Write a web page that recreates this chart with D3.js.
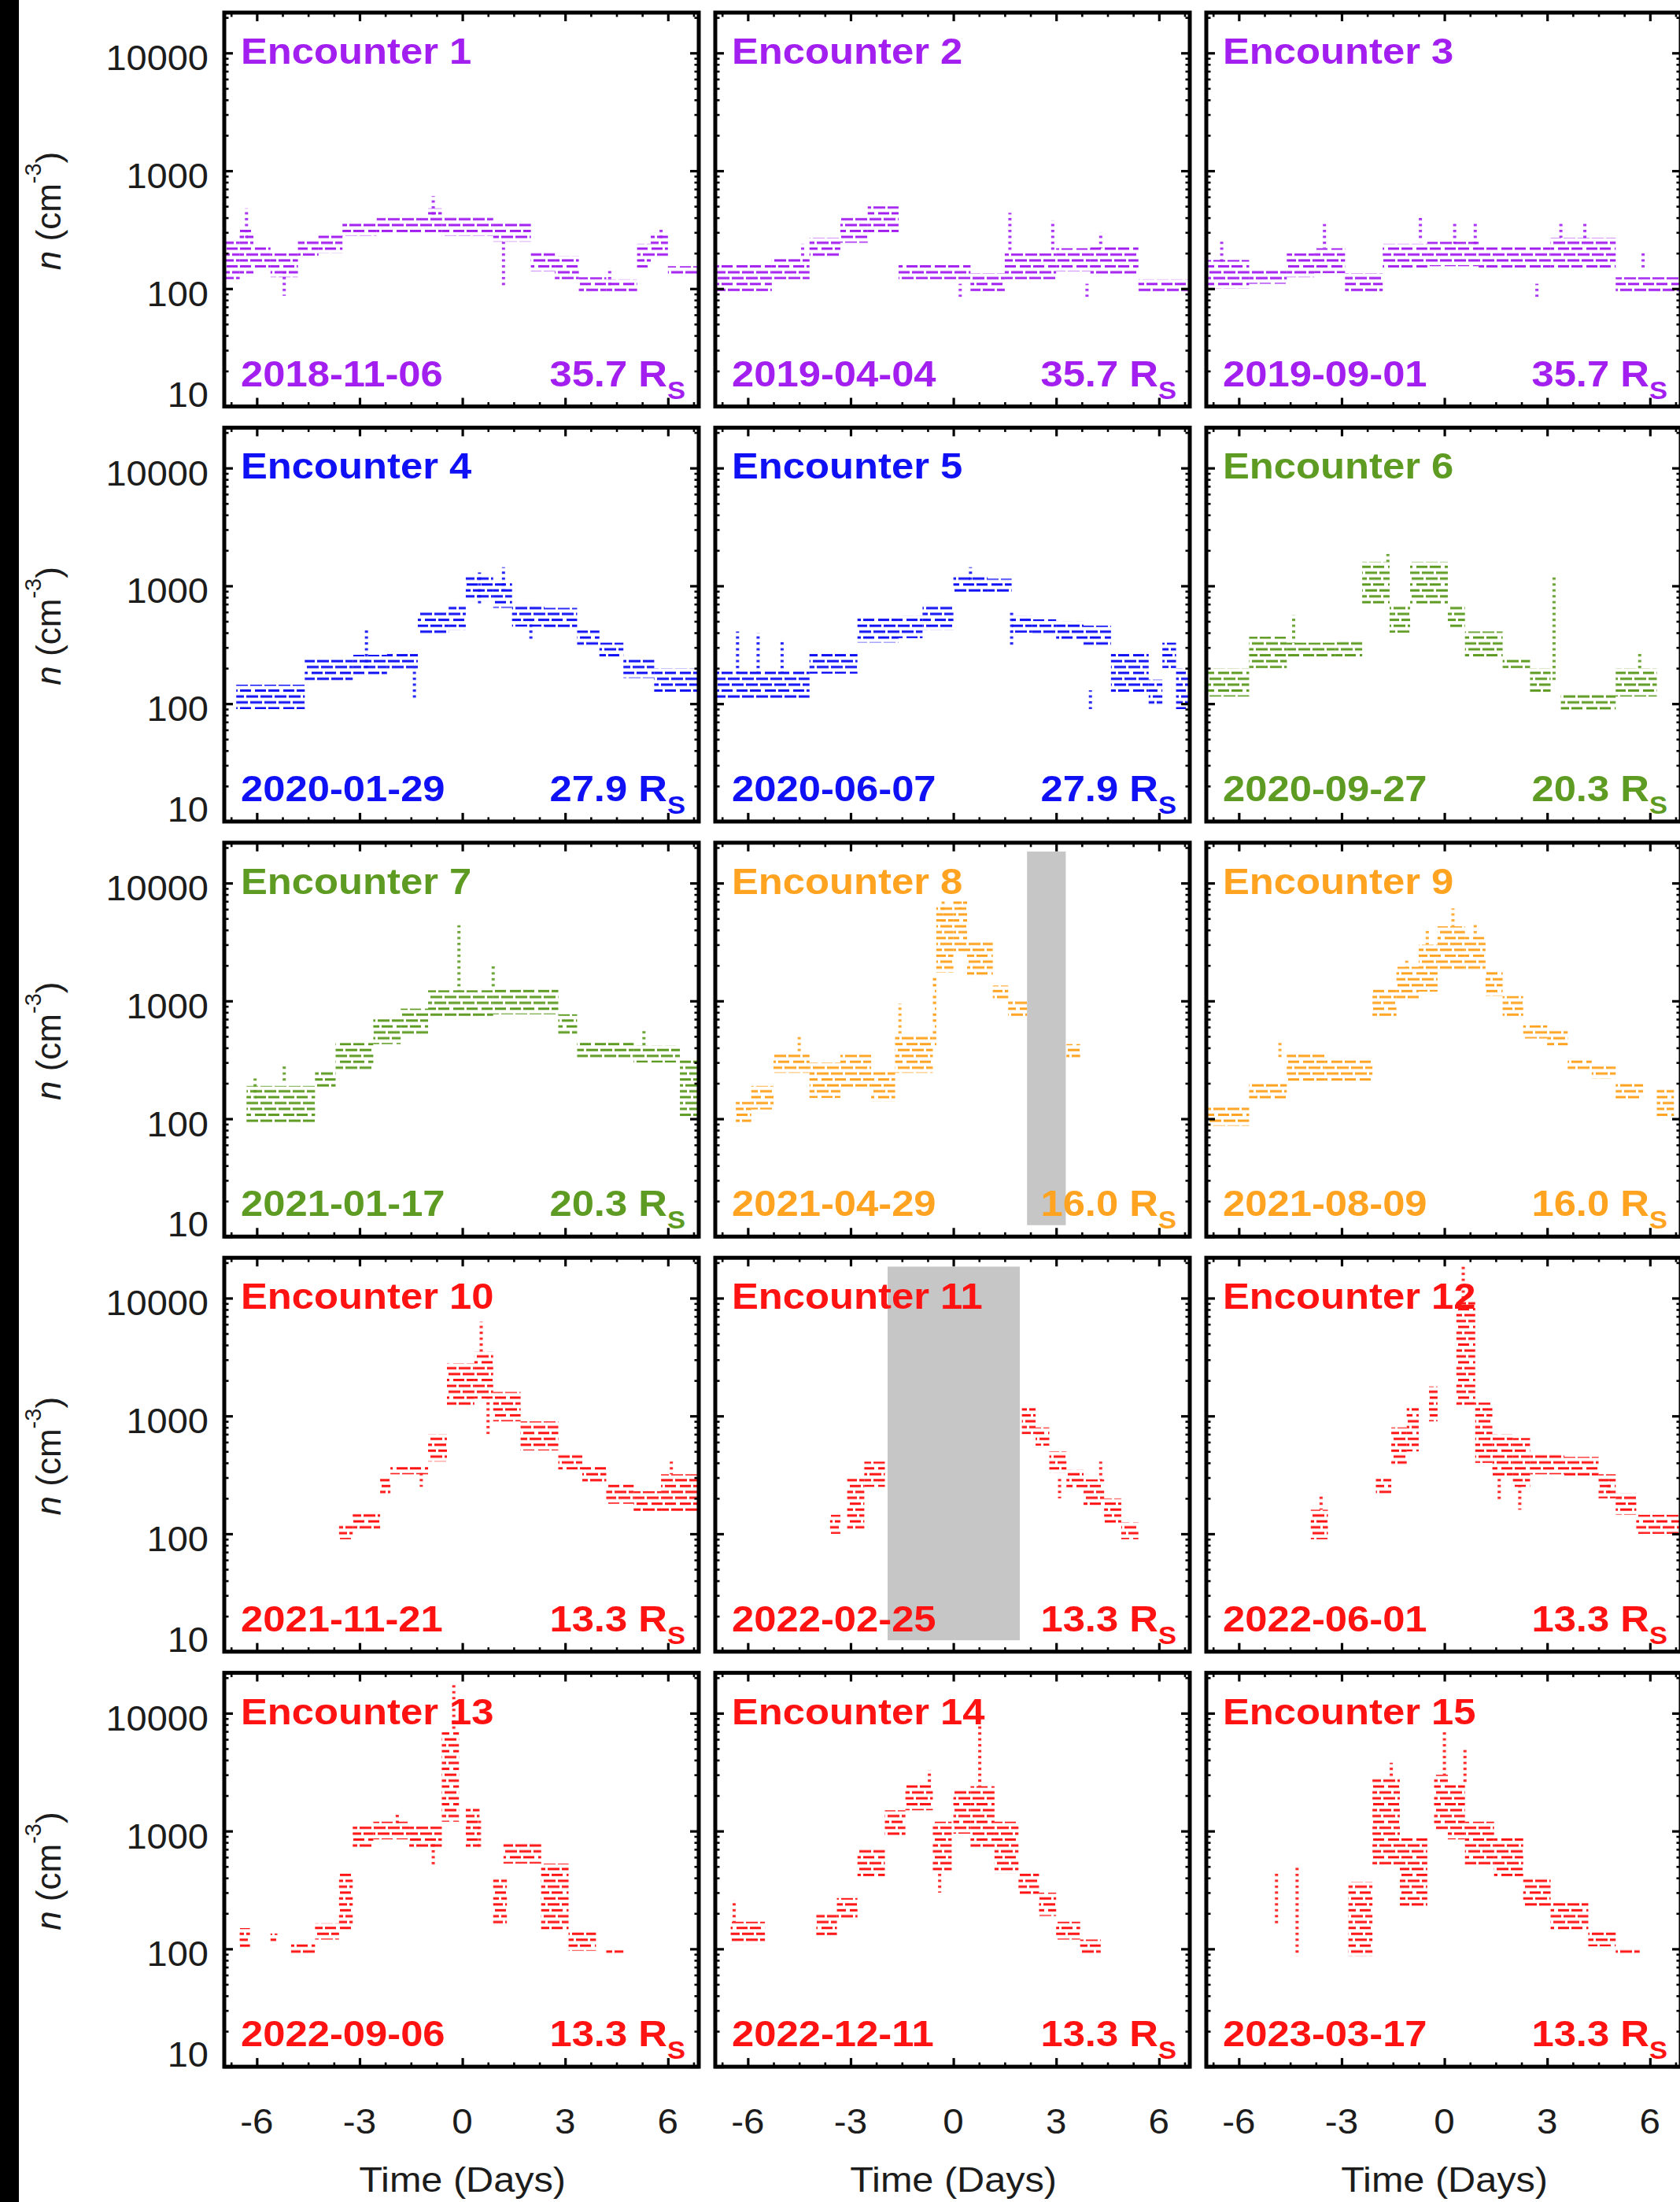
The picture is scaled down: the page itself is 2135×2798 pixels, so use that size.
<!DOCTYPE html>
<html>
<head>
<meta charset="utf-8">
<script src="https://cdn.jsdelivr.net/npm/d3@7"></script>
<style>
  html, body { margin: 0; padding: 0; background: #fff; }
  svg { display: block; }
</style>
</head>
<body>
<svg id="fig" width="2135" height="2798"></svg>
<script>
// ---------------------------------------------------------------
// Solar-wind proton density around each Parker Solar Probe perihelion
// Time axis: days from perihelion; y axis: n (cm^-3), log scale.
// ---------------------------------------------------------------

// Encounter metadata
const encounterIds = [1, 2, 3, 4, 5, 6, 7, 8, 9, 10, 11, 12, 13, 14, 15];
const encounterDates = [
  "2018-11-06", "2019-04-04", "2019-09-01",
  "2020-01-29", "2020-06-07", "2020-09-27",
  "2021-01-17", "2021-04-29", "2021-08-09",
  "2021-11-21", "2022-02-25", "2022-06-01",
  "2022-09-06", "2022-12-11", "2023-03-17"
];
const perihelionRs = [
  "35.7", "35.7", "35.7",
  "27.9", "27.9", "20.3",
  "20.3", "16.0", "16.0",
  "13.3", "13.3", "13.3",
  "13.3", "13.3", "13.3"
];

// Axis ticks
const xMajorTicks = [-6, -3, 0, 3, 6];
const xMinorTicks = [-6.75, -5.25, -4.5, -3.75, -2.25, -1.5, -0.75, 0.75, 1.5, 2.25, 3.75, 4.5, 5.25, 6.75];
const xTickLabels = ["-6", "-3", "0", "3", "6"];
const yMajorTicks = [10, 100, 1000, 10000];
const yTickLabels = ["10", "100", "1000", "10000"];

// Density samples: [tStart, tEnd, nLow, nHigh] (days, cm^-3)
const enc1Bands = [
  [-6.95, -6.5, 120, 260], [-6.5, -6.1, 130, 330], [-6.1, -5.6, 150, 230],
  [-5.6, -4.8, 125, 200], [-4.8, -4.2, 190, 260], [-4.2, -3.5, 200, 290],
  [-3.5, -2.5, 280, 370], [-2.5, -1.0, 290, 400], [-1.0, -0.6, 300, 480],
  [-0.6, 0.9, 280, 410], [0.9, 2.0, 250, 370], [2.0, 2.7, 140, 210],
  [2.7, 3.4, 120, 190], [3.4, 4.2, 92, 125], [4.2, 5.1, 92, 120],
  [5.1, 5.5, 150, 240], [5.5, 6.0, 180, 300], [6.0, 6.9, 130, 155]
];
const enc2Bands = [
  [-6.95, -5.3, 95, 165], [-5.3, -4.2, 120, 180], [-4.2, -3.3, 180, 270],
  [-3.3, -2.5, 245, 400], [-2.5, -1.6, 300, 500], [-1.6, 0.5, 120, 160],
  [0.5, 1.5, 95, 135], [1.5, 3.0, 120, 200], [3.0, 4.0, 140, 220],
  [4.0, 5.4, 130, 230], [5.4, 6.9, 92, 120]
];
const enc3Bands = [
  [-6.95, -5.7, 100, 175], [-5.7, -4.6, 110, 145], [-4.6, -3.8, 125, 200],
  [-3.8, -2.9, 135, 220], [-2.9, -1.8, 90, 135], [-1.8, -0.5, 150, 240],
  [-0.5, 1.0, 155, 250], [1.0, 3.1, 145, 230], [3.1, 5.0, 145, 270],
  [5.0, 6.9, 90, 125]
];
const enc4Bands = [
  [-6.6, -4.6, 90, 145], [-4.6, -3.2, 150, 245], [-3.2, -2.2, 170, 260],
  [-2.2, -1.3, 190, 280], [-1.3, -0.4, 380, 620], [-0.4, 0.1, 420, 700],
  [0.1, 0.9, 750, 1200], [0.9, 1.45, 650, 1100], [1.45, 2.4, 450, 700],
  [2.4, 3.35, 430, 650], [3.35, 4.0, 300, 420], [4.0, 4.7, 240, 330],
  [4.7, 5.6, 165, 245], [5.6, 6.9, 125, 200]
];
const enc5Bands = [
  [-6.95, -4.2, 110, 190], [-4.2, -2.8, 180, 270], [-2.8, -1.6, 330, 530],
  [-1.6, -0.9, 360, 560], [-0.9, 0.0, 420, 700], [0.0, 1.0, 850, 1230],
  [1.0, 1.7, 850, 1150], [1.7, 2.3, 400, 560], [2.3, 3.0, 380, 520],
  [3.0, 3.8, 340, 500], [3.8, 4.6, 300, 460], [4.6, 5.7, 120, 270],
  [5.7, 6.1, 95, 160], [6.1, 6.5, 200, 330], [6.5, 6.9, 90, 200]
];
const enc6Bands = [
  [-6.95, -5.7, 115, 200], [-5.7, -4.6, 200, 370], [-4.6, -3.2, 245, 330],
  [-3.2, -2.4, 250, 340], [-2.4, -1.6, 700, 1600], [-1.6, -1.0, 400, 700],
  [-1.0, 0.1, 700, 1600], [0.1, 0.6, 430, 700], [0.6, 1.7, 245, 410],
  [1.7, 2.5, 200, 245], [2.5, 3.1, 120, 200], [3.4, 5.0, 87, 120],
  [5.0, 6.2, 115, 200]
];
const enc7Bands = [
  [-6.3, -4.3, 90, 190], [-4.3, -3.7, 180, 260], [-3.7, -2.6, 260, 440],
  [-2.6, -1.8, 430, 700], [-1.8, -1.0, 520, 860], [-1.0, 0.9, 700, 1230],
  [0.9, 2.8, 770, 1300], [2.8, 3.35, 510, 770], [3.35, 5.0, 320, 460],
  [5.0, 6.35, 300, 420], [6.35, 6.9, 100, 320]
];
const enc8Bands = [
  [-6.35, -5.9, 90, 140], [-5.9, -5.25, 120, 190], [-5.25, -4.2, 245, 370],
  [-4.2, -3.3, 150, 300], [-3.3, -2.4, 180, 350], [-2.4, -1.7, 140, 250],
  [-1.7, -0.6, 245, 500], [-0.6, -0.5, 415, 1660], [-0.5, 0.0, 1740, 6600],
  [0.0, 0.4, 2600, 7300], [0.4, 1.15, 1580, 3200], [1.15, 1.6, 1000, 1350],
  [1.6, 2.15, 730, 1000], [3.3, 3.7, 320, 430]
];
const enc9Bands = [
  [-6.95, -5.7, 87, 125], [-5.7, -4.6, 145, 200], [-4.6, -3.5, 200, 370],
  [-3.5, -2.1, 210, 330], [-2.1, -1.4, 700, 1300], [-1.4, -0.75, 1000, 1950],
  [-0.75, -0.2, 1200, 3000], [-0.2, 0.6, 1800, 4300], [0.6, 1.2, 1780, 3500],
  [1.2, 1.7, 1100, 1780], [1.7, 2.3, 700, 1100], [2.3, 3.0, 480, 620],
  [3.0, 3.6, 410, 560], [3.6, 4.3, 250, 320], [4.3, 5.0, 220, 280],
  [5.0, 5.8, 145, 200], [6.2, 6.7, 100, 180]
];
const enc10Bands = [
  [-3.6, -3.2, 90, 120], [-3.2, -2.4, 110, 150], [-2.4, -2.1, 210, 300],
  [-2.1, -1.0, 320, 370], [-1.0, -0.45, 410, 700], [-0.45, 0.35, 1200, 2800],
  [0.35, 0.9, 1400, 3500], [0.9, 1.7, 900, 1600], [1.7, 2.8, 510, 900],
  [2.8, 3.5, 350, 480], [3.5, 4.2, 270, 380], [4.2, 5.0, 180, 270],
  [5.0, 5.8, 150, 230], [5.8, 6.9, 150, 320]
];
const enc11Bands = [
  [-3.6, -3.3, 100, 145], [-3.1, -2.6, 110, 300], [-2.6, -2.0, 250, 410],
  [2.0, 2.4, 700, 1200], [2.4, 2.8, 560, 800], [2.8, 3.3, 330, 500],
  [3.3, 3.8, 245, 350], [3.8, 4.4, 170, 290], [4.4, 4.9, 120, 200],
  [4.9, 5.4, 90, 125]
];
const enc12Bands = [
  [-3.9, -3.4, 90, 160], [-2.0, -1.55, 220, 300], [-1.55, -1.1, 380, 800],
  [-1.1, -0.75, 500, 1200], [-0.45, -0.2, 900, 1780], [0.35, 0.9, 1200, 9400],
  [0.9, 1.4, 400, 1300], [1.4, 2.0, 300, 700], [2.0, 2.5, 250, 650],
  [2.5, 3.5, 320, 480], [3.5, 4.5, 300, 450], [4.5, 5.0, 200, 320],
  [5.0, 5.6, 145, 220], [5.6, 6.9, 100, 145]
];
const enc13Bands = [
  [-6.5, -6.2, 99, 150], [-5.6, -5.4, 110, 135], [-5.0, -4.3, 89, 110],
  [-4.3, -3.6, 120, 165], [-3.6, -3.2, 145, 460], [-3.2, -2.6, 700, 1100],
  [-2.6, -1.55, 850, 1200], [-1.55, -0.6, 700, 1100], [-0.6, -0.1, 1200, 7200],
  [0.1, 0.5, 700, 1600], [0.9, 1.3, 160, 410], [1.2, 2.3, 530, 810],
  [2.3, 3.1, 145, 530], [3.1, 3.9, 96, 145], [4.2, 4.7, 90, 98]
];
const enc14Bands = [
  [-6.5, -5.5, 110, 170], [-4.0, -3.4, 130, 200], [-3.4, -2.8, 180, 270],
  [-2.8, -2.0, 410, 700], [-2.0, -1.4, 900, 1500], [-1.4, -0.6, 1500, 2550],
  [-0.6, -0.05, 460, 1200], [0.0, 0.5, 950, 2300], [0.5, 1.2, 700, 2400],
  [1.2, 1.9, 435, 1200], [1.9, 2.5, 280, 460], [2.5, 3.0, 190, 300],
  [3.0, 3.7, 120, 170], [3.7, 4.3, 90, 120]
];
const enc15Bands = [
  [-2.8, -2.1, 87, 370], [-2.1, -1.3, 500, 2800], [-1.3, -0.5, 220, 900],
  [-0.3, 0.1, 1000, 3000], [0.1, 0.6, 850, 2500], [0.6, 1.45, 510, 1200],
  [1.45, 2.3, 410, 900], [2.3, 3.1, 220, 410], [3.1, 4.2, 145, 245],
  [4.2, 5.0, 105, 145], [5.0, 5.7, 90, 100]
];

// Isolated excursions: [t, nLow, nHigh]
const enc1Spikes = [[-6.3, 250, 480], [-5.2, 87, 140], [-0.85, 400, 610], [1.2, 105, 250], [4.3, 100, 150], [5.8, 250, 320]];
const enc2Spikes = [[1.65, 200, 440], [2.9, 200, 380], [4.3, 220, 300], [-4.4, 180, 240], [0.2, 85, 110], [3.9, 85, 110]];
const enc3Spikes = [[-6.5, 160, 250], [-3.5, 220, 355], [-0.7, 250, 420], [0.3, 240, 370], [0.9, 230, 360], [3.4, 270, 360], [4.1, 260, 360], [5.8, 150, 210], [2.7, 85, 110]];
const enc4Spikes = [[-2.8, 200, 435], [-1.4, 110, 200], [1.2, 900, 1440], [0.5, 700, 1300], [2.0, 350, 500]];
const enc5Spikes = [[-6.3, 180, 410], [-5.7, 180, 400], [-5.0, 180, 350], [0.5, 1100, 1440], [1.7, 300, 600], [4.0, 90, 130]];
const enc6Spikes = [[-4.4, 330, 565], [-1.65, 1600, 1870], [3.2, 150, 1200], [5.7, 200, 270]];
const enc7Spikes = [[-6.05, 140, 220], [-5.2, 200, 285], [-0.1, 1230, 4400], [0.9, 1300, 2000], [5.3, 400, 560]];
const enc8Spikes = [[-4.5, 370, 500], [-1.56, 500, 950], [-0.3, 4500, 7200], [0.2, 6100, 7200]];
const enc9Spikes = [[-4.8, 320, 460], [-0.5, 3000, 4000], [0.25, 4300, 6100], [0.9, 3500, 4500], [-1.1, 1950, 2200]];
const enc10Spikes = [[0.55, 3500, 6300], [0.75, 700, 1400], [-1.2, 250, 330], [6.1, 320, 410]];
const enc11Spikes = [[4.3, 290, 410], [3.1, 200, 300]];
const enc12Spikes = [[-3.6, 160, 220], [0.55, 9400, 19400], [1.6, 190, 300], [2.2, 160, 250], [4.8, 220, 300]];
const enc13Spikes = [[-0.25, 7200, 17400], [-1.9, 1100, 1450], [-0.85, 500, 800], [0.5, 700, 1250]];
const enc14Spikes = [[-6.4, 170, 260], [-0.7, 2550, 3300], [0.77, 2400, 8000], [-0.4, 300, 460], [6.9, 88, 110]];
const enc15Spikes = [[-4.9, 160, 460], [-4.3, 87, 500], [0.0, 3000, 7200], [0.6, 2500, 5000], [-1.55, 2800, 3800]];

// Intervals with no usable data (shaded): [encounter, tStart, tEnd]
const dataGaps = [[8, 2.15, 3.28], [11, -1.92, 1.94]];
const gapDensityRange = [12.5, 18500];

const allBands = [enc1Bands, enc2Bands, enc3Bands, enc4Bands, enc5Bands, enc6Bands, enc7Bands,
  enc8Bands, enc9Bands, enc10Bands, enc11Bands, enc12Bands, enc13Bands, enc14Bands, enc15Bands];
const allSpikes = [enc1Spikes, enc2Spikes, enc3Spikes, enc4Spikes, enc5Spikes, enc6Spikes, enc7Spikes,
  enc8Spikes, enc9Spikes, enc10Spikes, enc11Spikes, enc12Spikes, enc13Spikes, enc14Spikes, enc15Spikes];

// Colour by perihelion distance
const perihelionColor = {
  "35.7": "#a21ff0",
  "27.9": "#1010f5",
  "20.3": "#5e9b22",
  "16.0": "#ffa320",
  "13.3": "#ff1212"
};

// ---------------- layout ----------------
const panelW = 603, panelH = 500.5;
const colLeft = [285, 909, 1533];
const rowTop = [16, 543.4, 1070.8, 1598.2, 2125.6];
const textStretch = 1.08;
const fontFamily = "'Liberation Sans', Arial, Helvetica, sans-serif";

const svg = d3.select("#fig");
svg.append("rect").attr("width", 2135).attr("height", 2798).attr("fill", "#fff");
svg.append("rect").attr("x", 0).attr("y", 0).attr("width", 24).attr("height", 2798).attr("fill", "#000");

// Stacked-dash texture: one dash level every 0.05 dex, runs of uneven length
const defs = svg.append("defs");
const levelStep = panelH / Math.log10(22000 / 10) * 0.05;
const dashRuns = [
  [0, 0, 14], [0, 17, 31],
  [1, 0, 4], [1, 7, 22], [1, 25, 36],
  [2, 0, 9], [2, 12, 27], [2, 30, 36]
];
Object.entries(perihelionColor).forEach(([key, col]) => {
  const id = key.replace(".", "_");
  const p = defs.append("pattern").attr("id", "dash-" + id)
    .attr("patternUnits", "userSpaceOnUse").attr("width", 36).attr("height", levelStep * 3);
  dashRuns.forEach(([lvl, a, b]) => {
    p.append("rect").attr("x", a).attr("y", lvl * levelStep)
      .attr("width", b - a).attr("height", 3).attr("fill", col);
  });
  const q = defs.append("pattern").attr("id", "col-" + id)
    .attr("patternUnits", "userSpaceOnUse").attr("width", 2).attr("height", levelStep);
  q.append("rect").attr("x", 0).attr("y", 0).attr("width", 2).attr("height", 3).attr("fill", col);
});

function stretched(g, x, y, anchor) {
  return g.append("text")
    .attr("transform", `translate(${x},${y}) scale(${textStretch},1)`)
    .attr("text-anchor", anchor)
    .style("font-family", fontFamily);
}

encounterIds.forEach((id, i) => {
  const row = Math.floor(i / 3), col = i % 3;
  const left = colLeft[col], top = rowTop[row];
  const right = left + panelW, bottom = top + panelH;
  const key = perihelionRs[i];
  const color = perihelionColor[key];
  const pid = key.replace(".", "_");

  const x = d3.scaleLinear().domain([-6.95, 6.9]).range([left, right]);
  const y = d3.scaleLog().domain([10, 22000]).range([bottom, top]);

  const g = svg.append("g");
  const clipId = "clip" + id;
  defs.append("clipPath").attr("id", clipId)
    .append("rect").attr("x", left).attr("y", top).attr("width", panelW).attr("height", panelH);

  const plot = g.append("g").attr("clip-path", `url(#${clipId})`);

  // shaded data gaps
  plot.selectAll("rect.gap")
    .data(dataGaps.filter(d => d[0] === id))
    .join("rect").attr("class", "gap")
    .attr("x", d => x(d[1])).attr("width", d => x(d[2]) - x(d[1]))
    .attr("y", y(gapDensityRange[1])).attr("height", y(gapDensityRange[0]) - y(gapDensityRange[1]))
    .attr("fill", "#c6c6c6");

  // density bands
  plot.selectAll("rect.band")
    .data(allBands[i])
    .join("rect").attr("class", "band")
    .attr("x", d => x(d[0])).attr("width", d => x(d[1]) - x(d[0]))
    .attr("y", d => y(d[3])).attr("height", d => y(d[2]) - y(d[3]))
    .attr("fill", `url(#dash-${pid})`);

  // isolated excursions
  plot.selectAll("rect.spike")
    .data(allSpikes[i])
    .join("rect").attr("class", "spike")
    .attr("x", d => x(d[0]) - 2).attr("width", 4)
    .attr("y", d => y(d[2])).attr("height", d => y(d[1]) - y(d[2]))
    .attr("fill", `url(#col-${pid})`).attr("opacity", 0.9);

  // axes: major + minor, ticks pointing inward on all four sides
  const yMinor = y.ticks().filter(v => !yMajorTicks.includes(v));
  const axes = [
    [d3.axisBottom(x), `translate(0,${bottom})`, xMajorTicks, xMinorTicks],
    [d3.axisTop(x), `translate(0,${top})`, xMajorTicks, xMinorTicks],
    [d3.axisLeft(y), `translate(${left},0)`, yMajorTicks, yMinor],
    [d3.axisRight(y), `translate(${right},0)`, yMajorTicks, yMinor]
  ];
  axes.forEach(([ax, tr, major, minor]) => {
    const gMaj = g.append("g").attr("transform", tr)
      .call(ax.tickValues(major).tickSizeInner(-11).tickSizeOuter(0).tickFormat(""));
    gMaj.select(".domain").remove();
    gMaj.selectAll(".tick line").attr("stroke", "#000").attr("stroke-width", 3.2);
    const gMin = g.append("g").attr("transform", tr)
      .call(ax.tickValues(minor).tickSizeInner(-5.5).tickSizeOuter(0).tickFormat(""));
    gMin.select(".domain").remove();
    gMin.selectAll(".tick line").attr("stroke", "#000").attr("stroke-width", 2.6);
  });

  // frame
  g.append("rect").attr("x", left).attr("y", top).attr("width", panelW).attr("height", panelH)
    .attr("fill", "none").attr("stroke", "#000").attr("stroke-width", 5);

  // in-panel labels
  stretched(g, left + 21, top + 65, "start")
    .style("font-size", "47px").style("font-weight", "bold").attr("fill", color)
    .text("Encounter " + id);
  stretched(g, left + 21, bottom - 26, "start")
    .style("font-size", "47px").style("font-weight", "bold").attr("fill", color)
    .text(encounterDates[i]);
  const dist = stretched(g, right - 17, bottom - 26, "end")
    .style("font-size", "47px").style("font-weight", "bold").attr("fill", color);
  dist.append("tspan").text(key + " R");
  dist.append("tspan").attr("dy", 16).style("font-size", "32px").text("S");

  // left column: y tick labels and axis title
  if (col === 0) {
    yMajorTicks.forEach((v, k) => {
      stretched(g, 265, y(v) + (v === 10 ? 0 : 22), "end")
        .style("font-size", "43.5px").attr("fill", "#1c1c1c").text(yTickLabels[k]);
    });
    const title = g.append("text")
      .attr("transform", `translate(77,${top + 252}) rotate(-90)`)
      .attr("text-anchor", "middle")
      .style("font-family", fontFamily).style("font-size", "44px").attr("fill", "#1c1c1c");
    title.append("tspan").style("font-style", "italic").text("n");
    title.append("tspan").text(" (cm");
    title.append("tspan").attr("dy", -25).style("font-size", "29px").text("-3");
    title.append("tspan").attr("dy", 25).text(")");
  }

  // bottom row: x tick labels and axis title
  if (row === 4) {
    xMajorTicks.forEach((v, k) => {
      stretched(g, x(v), 2711, "middle")
        .style("font-size", "44px").attr("fill", "#1c1c1c").text(xTickLabels[k]);
    });
    stretched(g, x(0), 2785, "middle")
      .style("font-size", "45px").attr("fill", "#1c1c1c").text("Time (Days)");
  }
});
</script>
</body>
</html>
